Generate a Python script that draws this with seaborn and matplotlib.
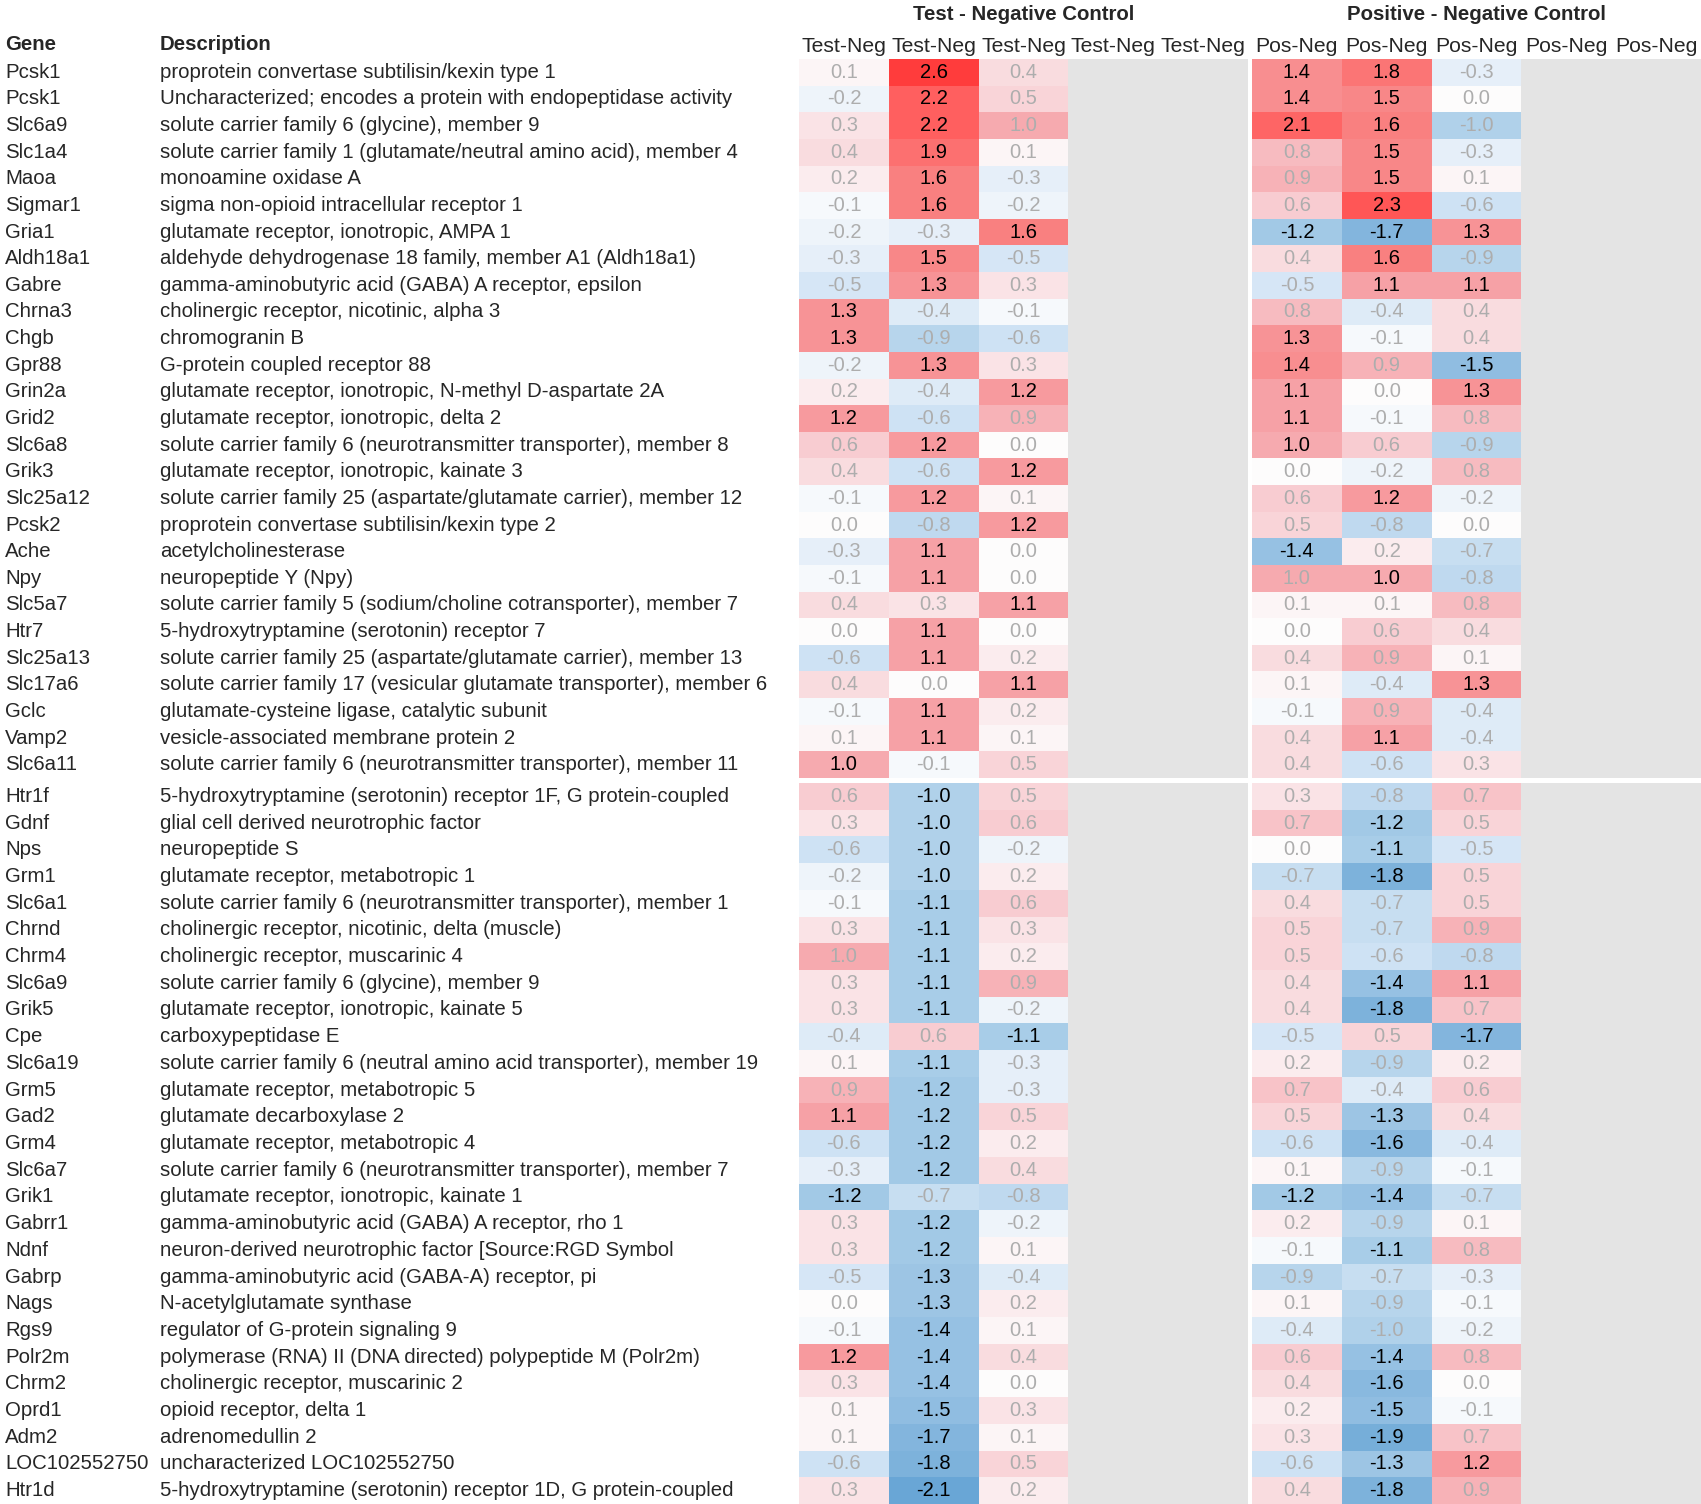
import matplotlib.pyplot as plt
import matplotlib.colors as mcolors
import matplotlib.transforms as mtransforms
import seaborn as sns
import numpy as np
import pandas as pd

genes = ['Pcsk1', 'Pcsk1', 'Slc6a9', 'Slc1a4', 'Maoa', 'Sigmar1', 'Gria1', 'Aldh18a1',
         'Gabre', 'Chrna3', 'Chgb', 'Gpr88', 'Grin2a', 'Grid2', 'Slc6a8', 'Grik3',
         'Slc25a12', 'Pcsk2', 'Ache', 'Npy', 'Slc5a7', 'Htr7', 'Slc25a13', 'Slc17a6',
         'Gclc', 'Vamp2', 'Slc6a11',
         'Htr1f', 'Gdnf', 'Nps', 'Grm1', 'Slc6a1', 'Chrnd', 'Chrm4', 'Slc6a9', 'Grik5',
         'Cpe', 'Slc6a19', 'Grm5', 'Gad2', 'Grm4', 'Slc6a7', 'Grik1', 'Gabrr1', 'Ndnf',
         'Gabrp', 'Nags', 'Rgs9', 'Polr2m', 'Chrm2', 'Oprd1', 'Adm2', 'LOC102552750', 'Htr1d']

descriptions = [
    'proprotein convertase subtilisin/kexin type 1',
    'Uncharacterized; encodes a protein with endopeptidase activity',
    'solute carrier family 6 (glycine), member 9',
    'solute carrier family 1 (glutamate/neutral amino acid), member 4',
    'monoamine oxidase A',
    'sigma non-opioid intracellular receptor 1',
    'glutamate receptor, ionotropic, AMPA 1',
    'aldehyde dehydrogenase 18 family, member A1 (Aldh18a1)',
    'gamma-aminobutyric acid (GABA) A receptor, epsilon',
    'cholinergic receptor, nicotinic, alpha 3',
    'chromogranin B',
    'G-protein coupled receptor 88',
    'glutamate receptor, ionotropic, N-methyl D-aspartate 2A',
    'glutamate receptor, ionotropic, delta 2',
    'solute carrier family 6 (neurotransmitter transporter), member 8',
    'glutamate receptor, ionotropic, kainate 3',
    'solute carrier family 25 (aspartate/glutamate carrier), member 12',
    'proprotein convertase subtilisin/kexin type 2',
    'acetylcholinesterase',
    'neuropeptide Y (Npy)',
    'solute carrier family 5 (sodium/choline cotransporter), member 7',
    '5-hydroxytryptamine (serotonin) receptor 7',
    'solute carrier family 25 (aspartate/glutamate carrier), member 13',
    'solute carrier family 17 (vesicular glutamate transporter), member 6',
    'glutamate-cysteine ligase, catalytic subunit',
    'vesicle-associated membrane protein 2',
    'solute carrier family 6 (neurotransmitter transporter), member 11',
    '5-hydroxytryptamine (serotonin) receptor 1F, G protein-coupled',
    'glial cell derived neurotrophic factor',
    'neuropeptide S',
    'glutamate receptor, metabotropic 1',
    'solute carrier family 6 (neurotransmitter transporter), member 1',
    'cholinergic receptor, nicotinic, delta (muscle)',
    'cholinergic receptor, muscarinic 4',
    'solute carrier family 6 (glycine), member 9',
    'glutamate receptor, ionotropic, kainate 5',
    'carboxypeptidase E',
    'solute carrier family 6 (neutral amino acid transporter), member 19',
    'glutamate receptor, metabotropic 5',
    'glutamate decarboxylase 2',
    'glutamate receptor, metabotropic 4',
    'solute carrier family 6 (neurotransmitter transporter), member 7',
    'glutamate receptor, ionotropic, kainate 1',
    'gamma-aminobutyric acid (GABA) A receptor, rho 1',
    'neuron-derived neurotrophic factor [Source:RGD Symbol',
    'gamma-aminobutyric acid (GABA-A) receptor, pi',
    'N-acetylglutamate synthase',
    'regulator of G-protein signaling 9',
    'polymerase (RNA) II (DNA directed) polypeptide M (Polr2m)',
    'cholinergic receptor, muscarinic 2',
    'opioid receptor, delta 1',
    'adrenomedullin 2',
    'uncharacterized LOC102552750',
    '5-hydroxytryptamine (serotonin) receptor 1D, G protein-coupled',
]

# three comparisons each; the 4th and 5th columns of each block are empty
test_neg_1 = [0.1, -0.2, 0.3, 0.4, 0.2, -0.1, -0.2, -0.3, -0.5, 1.3, 1.3, -0.2, 0.2, 1.2,
              0.6, 0.4, -0.1, 0.0, -0.3, -0.1, 0.4, 0.0, -0.6, 0.4, -0.1, 0.1, 1.0,
              0.6, 0.3, -0.6, -0.2, -0.1, 0.3, 1.0, 0.3, 0.3, -0.4, 0.1, 0.9, 1.1, -0.6,
              -0.3, -1.2, 0.3, 0.3, -0.5, 0.0, -0.1, 1.2, 0.3, 0.1, 0.1, -0.6, 0.3]
test_neg_2 = [2.6, 2.2, 2.2, 1.9, 1.6, 1.6, -0.3, 1.5, 1.3, -0.4, -0.9, 1.3, -0.4, -0.6,
              1.2, -0.6, 1.2, -0.8, 1.1, 1.1, 0.3, 1.1, 1.1, 0.0, 1.1, 1.1, -0.1,
              -1.0, -1.0, -1.0, -1.0, -1.1, -1.1, -1.1, -1.1, -1.1, 0.6, -1.1, -1.2, -1.2,
              -1.2, -1.2, -0.7, -1.2, -1.2, -1.3, -1.3, -1.4, -1.4, -1.4, -1.5, -1.7, -1.8, -2.1]
test_neg_3 = [0.4, 0.5, 1.0, 0.1, -0.3, -0.2, 1.6, -0.5, 0.3, -0.1, -0.6, 0.3, 1.2, 0.9,
              0.0, 1.2, 0.1, 1.2, 0.0, 0.0, 1.1, 0.0, 0.2, 1.1, 0.2, 0.1, 0.5,
              0.5, 0.6, -0.2, 0.2, 0.6, 0.3, 0.2, 0.9, -0.2, -1.1, -0.3, -0.3, 0.5, 0.2,
              0.4, -0.8, -0.2, 0.1, -0.4, 0.2, 0.1, 0.4, 0.0, 0.3, 0.1, 0.5, 0.2]
pos_neg_1 = [1.4, 1.4, 2.1, 0.8, 0.9, 0.6, -1.2, 0.4, -0.5, 0.8, 1.3, 1.4, 1.1, 1.1,
             1.0, 0.0, 0.6, 0.5, -1.4, 1.0, 0.1, 0.0, 0.4, 0.1, -0.1, 0.4, 0.4,
             0.3, 0.7, 0.0, -0.7, 0.4, 0.5, 0.5, 0.4, 0.4, -0.5, 0.2, 0.7, 0.5, -0.6,
             0.1, -1.2, 0.2, -0.1, -0.9, 0.1, -0.4, 0.6, 0.4, 0.2, 0.3, -0.6, 0.4]
pos_neg_2 = [1.8, 1.5, 1.6, 1.5, 1.5, 2.3, -1.7, 1.6, 1.1, -0.4, -0.1, 0.9, 0.0, -0.1,
             0.6, -0.2, 1.2, -0.8, 0.2, 1.0, 0.1, 0.6, 0.9, -0.4, 0.9, 1.1, -0.6,
             -0.8, -1.2, -1.1, -1.8, -0.7, -0.7, -0.6, -1.4, -1.8, 0.5, -0.9, -0.4, -1.3,
             -1.6, -0.9, -1.4, -0.9, -1.1, -0.7, -0.9, -1.0, -1.4, -1.6, -1.5, -1.9, -1.3, -1.8]
pos_neg_3 = [-0.3, 0.0, -1.0, -0.3, 0.1, -0.6, 1.3, -0.9, 1.1, 0.4, 0.4, -1.5, 1.3, 0.8,
             -0.9, 0.8, -0.2, 0.0, -0.7, -0.8, 0.8, 0.4, 0.1, 1.3, -0.4, -0.4, 0.3,
             0.7, 0.5, -0.5, 0.5, 0.5, 0.9, -0.8, 1.1, 0.7, -1.7, 0.2, 0.6, 0.4, -0.4,
             -0.1, -0.7, 0.1, 0.8, -0.3, -0.1, -0.2, 0.8, 0.0, -0.1, 0.7, 1.2, 0.9]

# cells with |value| >= 1 that are printed in grey (not significant)
faded = [(2, 'T3'), (2, 'P3'), (19, 'P1'), (33, 'T1'), (47, 'P2')]

n_top = 27
col_labels = {'T': 'Test-Neg', 'P': 'Pos-Neg'}
titles = {'T': 'Test - Negative Control', 'P': 'Positive - Negative Control'}

nan = [np.nan] * len(genes)
blocks = {
    'T': pd.DataFrame({'T1': test_neg_1, 'T2': test_neg_2, 'T3': test_neg_3, 'T4': nan, 'T5': nan}),
    'P': pd.DataFrame({'P1': pos_neg_1, 'P2': pos_neg_2, 'P3': pos_neg_3, 'P4': nan, 'P5': nan}),
}

sns.set_theme(style='white')
plt.rcParams['font.family'] = ['Liberation Sans', 'DejaVu Sans']

W, H = 1701, 1504
fig = plt.figure(figsize=(W / 100, H / 100), dpi=100)

stops = [(-2.6, '#4f8fcb'), (-2.1, '#6aa6d6'), (-1.1, '#a9cde8'), (-0.5, '#d6e6f6'),
         (0.0, '#fdfdfd'), (0.3, '#fae3e6'), (0.6, '#f8ccd1'), (1.1, '#f6a2a7'),
         (1.6, '#f98080'), (2.2, '#ff6060'), (2.6, '#ff3c3c')]
cmap = mcolors.LinearSegmentedColormap.from_list('rwb', [((v + 2.6) / 5.2, c) for v, c in stops])


def px_rect(x0, y0, x1, y1):
    return [x0 / W, 1 - y1 / H, (x1 - x0) / W, (y1 - y0) / H]


x_span = {'T': (799, 1248), 'P': (1252, 1701)}
y_span = [(59, 778, slice(0, n_top)), (783, 1504, slice(n_top, len(genes)))]
fs = 14.7
fs_num = 14.5

for part, (y0, y1, rows) in enumerate(y_span):
    for key, df in blocks.items():
        x0, x1 = x_span[key]
        ax = fig.add_axes(px_rect(x0, y0, x1, y1))
        ax.set_facecolor('#e4e4e4')
        sub = df.iloc[rows].reset_index(drop=True)
        sns.heatmap(sub, cmap=cmap, vmin=-2.6, vmax=2.6, cbar=False, ax=ax,
                    xticklabels=[col_labels[key]] * 5 if part == 0 else False,
                    yticklabels=False)
        if part == 0:
            ax.xaxis.tick_top()
            ax.tick_params(axis='x', length=0, pad=2, labelsize=15.2)
            plt.setp(ax.get_xticklabels(), rotation=0)
            fig.text((x0 + x1) / 2 / W, 1 - 14 / H, titles[key], ha='center', va='center',
                     fontsize=fs, fontweight='bold')
        for i in range(len(sub)):
            gi = i + rows.start
            for j, col in enumerate(sub.columns):
                v = sub.iloc[i, j]
                if np.isnan(v):
                    continue
                dark = abs(v) >= 1.0 and (gi, col) not in faded
                ax.text(j + 0.5, i + 0.5, f'{v:.1f}', ha='center', va='center',
                        fontsize=fs_num, color='black' if dark else '#adadad')
        if key == 'T':
            tr = mtransforms.blended_transform_factory(fig.transFigure, ax.transData)
            for i in range(len(sub)):
                gi = i + rows.start
                ax.text(5 / W, i + 0.5, genes[gi], transform=tr, ha='left', va='center',
                        fontsize=fs, clip_on=False)
                ax.text(160 / W, i + 0.5, descriptions[gi], transform=tr, ha='left',
                        va='center', fontsize=fs, clip_on=False)

fig.text(5 / W, 1 - 44 / H, 'Gene', ha='left', va='center', fontsize=fs, fontweight='bold')
fig.text(160 / W, 1 - 44 / H, 'Description', ha='left', va='center', fontsize=fs,
         fontweight='bold')

fig.savefig('out.png', dpi=100, facecolor='white')
